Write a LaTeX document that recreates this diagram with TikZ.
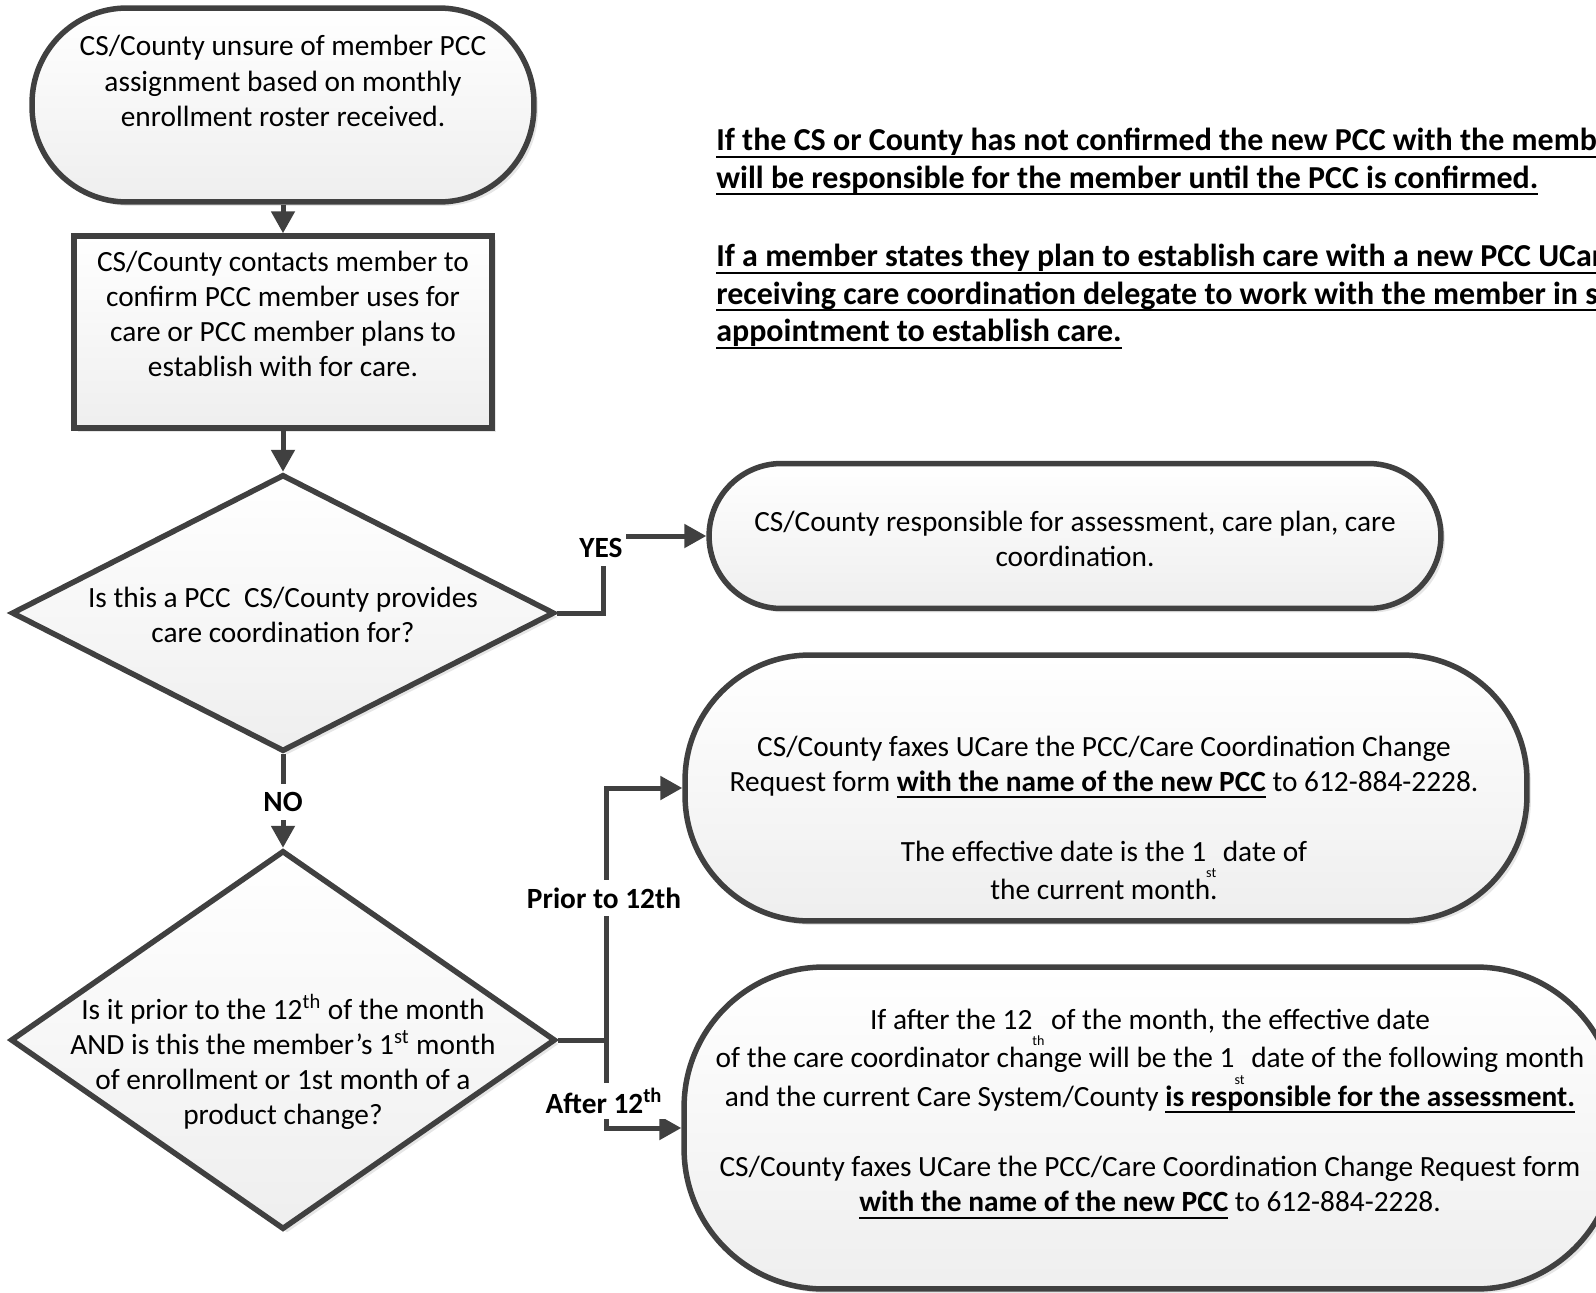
\documentclass[tikz,border=0pt]{standalone}
\usepackage{fontspec}
\setmainfont{Carlito}
\definecolor{FlowGray}{RGB}{64, 64, 64}
\usetikzlibrary{shapes.geometric, arrows.meta, shadows}
\newcommand{\lowsup}[1]{\raisebox{-0.55em}{\footnotesize #1}}
\newcommand{\undl}[1]{\setbox0=\hbox{#1}\rlap{\vrule height -2.8pt depth 3.9pt width \wd0}\box0\relax}

\begin{document}
\begin{tikzpicture}[
        x=0.02cm, y=-0.02cm,
        font=\fontsize{16.7}{20}\selectfont,
        shapebase/.style={draw=FlowGray, line width=0.11cm, top color=white, bottom color=gray!13,
            drop shadow={opacity=0.2, shadow xshift=0.08cm, shadow yshift=-0.08cm}},
        term/.style={shapebase, rectangle, rounded corners=#1},
        term/.default=1.9cm,
        procbox/.style={shapebase, rectangle},
        decision/.style={shapebase, diamond},
        txt/.style={align=center, inner sep=0pt},
        note/.style={align=left, anchor=north west, inner sep=0pt, font=\fontsize{18.2}{21.4}\selectfont\bfseries},
        lbl/.style={fill=white, inner sep=2pt, minimum height=0.72cm, font=\fontsize{16.7}{20}\selectfont\bfseries},
        arrow/.style={-{Triangle[length=0.44cm, width=0.46cm]}, line width=0.1cm, draw=FlowGray}
    ]
        \useasboundingbox (0, 0) rectangle (1596, 1292);

        % Left column - start, contact, two decisions
        \node[term, minimum width=10.04cm, minimum height=3.88cm] (start) at (283, 105) {};
        \node[txt] (startText) at (283, 81) {CS/County unsure of member PCC\\assignment based on monthly\\enrollment roster received.};

        \node[procbox, minimum width=8.36cm, minimum height=3.84cm] (contact) at (283, 332) {};
        \node[txt] (contactText) at (283, 314) {CS/County contacts member to\\confirm PCC member uses for\\care or PCC member plans to\\establish with for care.};

        \node[decision, minimum width=10.86cm, minimum height=5.54cm] (dec1) at (283, 613) {};
        \node[txt] (dec1Text) at (283, 615) {Is this a PCC\ \ CS/County provides\\care coordination for?};

        \node[decision, minimum width=10.9cm, minimum height=7.58cm] (dec2) at (283, 1040) {};
        \node[txt] (dec2Text) at (283, 1062) {Is it prior to the 12\textsuperscript{th} of the month\\AND is this the member’s 1\textsuperscript{st} month\\of enrollment or 1st month of a\\product change?};

        % Right column - outcomes
        \node[term=1.45cm, minimum width=14.64cm, minimum height=2.9cm] (yes) at (1075, 536) {};
        \node[txt] (yesText) at (1075, 539) {CS/County responsible for assessment, care plan, care\\coordination.};

        \node[term=2.5cm, minimum width=16.84cm, minimum height=5.32cm] (prior) at (1106, 788) {};
        \node[txt] (priorText) at (1104, 818) {CS/County faxes UCare the PCC/Care Coordination Change\\Request form \undl{\textbf{with the name of the new PCC}} to 612-884-2228.\\[20pt]The effective date is the 1\lowsup{st} date of\\the current month.};

        \node[term=2.8cm, minimum width=18.64cm, minimum height=6.44cm] (after) at (1150, 1128) {};
        \node[txt] (afterText) at (1150, 1114) {If after the 12\lowsup{th} of the month, the effective date\\of the care coordinator change will be the 1\lowsup{st} date of the following month\\and the current Care System/County \undl{\textbf{is responsible for the assessment.}}\\[20pt]CS/County faxes UCare the PCC/Care Coordination Change Request form\\\undl{\textbf{with the name of the new PCC}} to 612-884-2228.};

        % Notes at top right
        \node[note] (noteA) at (716, 128) {\undl{If the CS or County has not confirmed the new PCC with the memb}\\\undl{will be responsible for the member until the PCC is confirmed.}};
        \node[note] (noteB) at (716, 244) {\undl{If a member states they plan to establish care with a new PCC UCar}\\\undl{receiving care coordination delegate to work with the member in s}\\\undl{appointment to establish care.}};

        % Connectors
        \coordinate (yesBend) at (603, 536);
        \coordinate (split) at (606, 1040);
        \draw[arrow] (start.south) -- (contact.north);
        \draw[arrow] (contact.south) -- (dec1.north);
        \draw[arrow] (dec1.east) -| (yesBend) -- (yes.west);
        \draw[arrow] (dec1.south) -- (dec2.north);
        \draw[arrow] (dec2.east) -- (split) |- (prior.west);
        \draw[arrow] (split) |- (after.west);

        % Connector labels
        \node[lbl] (yesLbl) at (601, 548) {YES};
        \node[lbl] (noLbl) at (283, 802) {NO};
        \node[lbl] (priorLbl) at (604, 898) {Prior to 12th};
        \node[lbl] (afterLbl) at (604, 1101) {After 12\textsuperscript{th}};
    \end{tikzpicture}
\end{document}
